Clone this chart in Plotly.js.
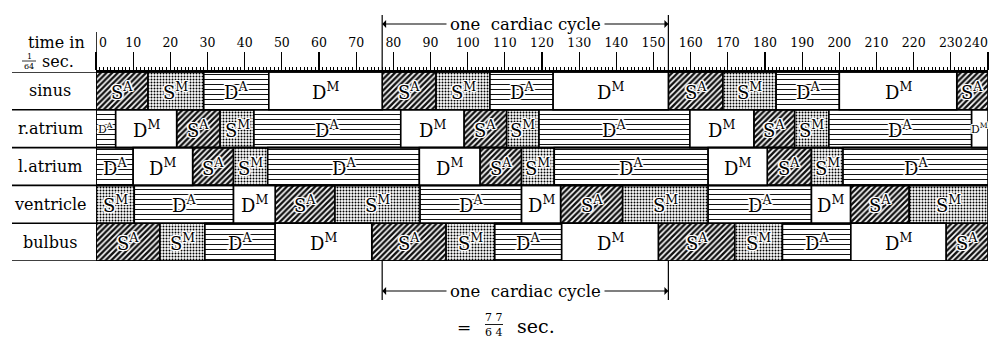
<!DOCTYPE html>
<html>
<head>
<meta charset="utf-8">
<script src="https://cdn.plot.ly/plotly-3.0.1.min.js"></script>
<style>
  html, body { margin: 0; padding: 0; background: #fff; }
  #chart { width: 1000px; height: 341px; }
</style>
</head>
<body>
<div id="chart"></div>
<script>
// Chambers of the heart, top to bottom
const rows = ['sinus', 'r.atrium', 'l.atrium', 'ventricle', 'bulbus'];

// Phase sequence and phase boundaries (time in 1/64 sec) for each chamber
const sinusPhases = ['SA', 'SM', 'DA', 'DM', 'SA', 'SM', 'DA', 'DM', 'SA', 'SM', 'DA', 'DM', 'SA'];
const sinusEdges = [0, 14, 29, 46.5, 77, 91.5, 106, 123, 154, 168.7, 183, 200, 231.6, 240];

const rAtriumPhases = ['DA', 'DM', 'SA', 'SM', 'DA', 'DM', 'SA', 'SM', 'DA', 'DM', 'SA', 'SM', 'DA', 'DM'];
const rAtriumEdges = [0, 5.3, 21.7, 33.4, 42.5, 82, 99, 110.5, 119.2, 159.8, 177, 188, 197.2, 235.6, 240];

const lAtriumPhases = ['DA', 'DM', 'SA', 'SM', 'DA', 'DM', 'SA', 'SM', 'DA', 'DM', 'SA', 'SM', 'DA'];
const lAtriumEdges = [0, 10, 26, 37, 46.2, 87, 103.3, 114.5, 123.3, 164.7, 180.6, 192.5, 201, 240];

const ventriclePhases = ['SM', 'DA', 'DM', 'SA', 'SM', 'DA', 'DM', 'SA', 'SM', 'DA', 'DM', 'SA', 'SM'];
const ventricleEdges = [0, 10.3, 37, 48.2, 64.3, 87.2, 114.5, 125, 141.7, 164.7, 192.5, 203, 218.8, 240];

const bulbusPhases = ['SA', 'SM', 'DA', 'DM', 'SA', 'SM', 'DA', 'DM', 'SA', 'SM', 'DA', 'DM', 'SA'];
const bulbusEdges = [0, 17.2, 29.3, 48.2, 74.2, 94.2, 107.3, 125.3, 151.3, 171.9, 184.7, 203.1, 228.7, 240];

// Time ruler
const majorTicks = [0, 10, 20, 30, 40, 50, 60, 70, 80, 90, 100, 110, 120, 130, 140, 150, 160, 170, 180, 190, 200, 210, 220, 230, 240];
const tickLabels = ['0', '10', '20', '30', '40', '50', '60', '70', '80', '90', '100', '110', '120', '130', '140', '150', '160', '170', '180', '190', '200', '210', '220', '230', '240'];

// One cardiac cycle
const cycleStart = 77;
const cycleEnd = 154;

const phaseLabels = {
  SA: 'S<sup>A</sup>',
  SM: 'S<sup>M</sup>',
  DA: 'D<sup>A</sup>',
  DM: 'D<sup>M</sup>'
};

const chamberData = [
  [sinusPhases, sinusEdges],
  [rAtriumPhases, rAtriumEdges],
  [lAtriumPhases, lAtriumEdges],
  [ventriclePhases, ventricleEdges],
  [bulbusPhases, bulbusEdges]
];

const FONT = 'DejaVu Serif, serif';
const HALO = '1px 0 0 #fff, -1px 0 0 #fff, 0 1px 0 #fff, 0 -1px 0 #fff, ' +
             '1px 1px 0 #fff, -1px -1px 0 #fff, 1px -1px 0 #fff, -1px 1px 0 #fff, ' +
             '2px 0 1px #fff, -2px 0 1px #fff';

// Fill texture for each phase
const phaseStyle = {
  SA: { shape: '/', fgcolor: '#111', size: 4, solidity: 0.6 },
  SM: { shape: '.', fgcolor: '#000', size: 3, solidity: 0.35 },
  DA: { shape: '-', fgcolor: '#111', size: 5, solidity: 0.2 },
  DM: { shape: '', fgcolor: '#000', size: 8, solidity: 0.3 }
};

const traces = [];
const annotations = [];

Object.keys(phaseStyle).forEach(function (key) {
  const ys = [], bases = [], lens = [];
  chamberData.forEach(function (cd, r) {
    const phases = cd[0], edges = cd[1];
    phases.forEach(function (p, i) {
      if (p !== key) return;
      ys.push(rows[r]);
      bases.push(edges[i]);
      lens.push(edges[i + 1] - edges[i]);
    });
  });
  const st = phaseStyle[key];
  traces.push({
    type: 'bar',
    orientation: 'h',
    y: ys,
    base: bases,
    x: lens,
    width: 1,
    hoverinfo: 'skip',
    marker: {
      color: '#fff',
      line: { color: '#000', width: 1.6 },
      pattern: {
        shape: st.shape,
        fgcolor: st.fgcolor,
        bgcolor: '#fff',
        size: st.size,
        solidity: st.solidity,
        fillmode: 'replace'
      }
    }
  });
});

// Phase labels in the middle of each block
chamberData.forEach(function (cd, r) {
  const phases = cd[0], edges = cd[1];
  phases.forEach(function (p, i) {
    const w = edges[i + 1] - edges[i];
    annotations.push({
      xref: 'x', yref: 'y',
      x: (edges[i] + edges[i + 1]) / 2,
      y: rows[r],
      text: phaseLabels[p],
      showarrow: false,
      xanchor: 'center', yanchor: 'middle',
      font: { family: FONT, size: w < 7 ? 11 : 18, color: '#000', shadow: HALO }
    });
  });
});

// Chamber names in the left column
rows.forEach(function (name) {
  annotations.push({
    xref: 'paper', yref: 'y',
    x: -46 / 892, y: name,
    text: name, showarrow: false,
    xanchor: 'center', yanchor: 'middle',
    font: { family: FONT, size: 16, color: '#000' }
  });
});

// Ruler end labels, set flush with the frame
annotations.push({
  xref: 'x', yref: 'paper', x: majorTicks[0], y: 1 + 29 / 189,
  text: tickLabels[0], showarrow: false, xanchor: 'left', yanchor: 'middle', xshift: 1,
  font: { family: FONT, size: 12.5, color: '#000' }
});
annotations.push({
  xref: 'x', yref: 'paper', x: majorTicks[majorTicks.length - 1], y: 1 + 29 / 189,
  text: tickLabels[tickLabels.length - 1], showarrow: false, xanchor: 'right', yanchor: 'middle', xshift: 2,
  font: { family: FONT, size: 12.5, color: '#000' }
});

// Ruler caption: "time in 1/64 sec."
annotations.push({
  xref: 'paper', yref: 'paper', x: -40 / 892, y: 1 + 29 / 189,
  text: 'time in', showarrow: false, xanchor: 'center', yanchor: 'middle', borderpad: 0,
  font: { family: FONT, size: 16, color: '#000' }
});
annotations.push({
  xref: 'paper', yref: 'paper', x: -67 / 892, y: 1 + 16 / 189,
  text: '1', showarrow: false, xanchor: 'center', yanchor: 'middle', borderpad: 0,
  font: { family: FONT, size: 8, color: '#000' }
});
annotations.push({
  xref: 'paper', yref: 'paper', x: -67 / 892, y: 1 + 6 / 189,
  text: '64', showarrow: false, xanchor: 'center', yanchor: 'middle', borderpad: 0,
  font: { family: FONT, size: 8, color: '#000' }
});
annotations.push({
  xref: 'paper', yref: 'paper', x: -38 / 892, y: 1 + 11 / 189,
  text: 'sec.', showarrow: false, xanchor: 'center', yanchor: 'middle', borderpad: 0,
  font: { family: FONT, size: 16, color: '#000' }
});

// Cardiac cycle brackets, above the ruler and below the chart
function cycleArrows(yPaper) {
  const mid = (cycleStart + cycleEnd) / 2;
  [cycleStart, cycleEnd].forEach(function (end) {
    annotations.push({
      xref: 'x', yref: 'paper', x: end, y: yPaper,
      axref: 'x', ayref: 'pixel', ax: mid, ay: 0,
      text: '', showarrow: true, arrowhead: 1, arrowsize: 1.2, arrowwidth: 1.1, arrowcolor: '#000'
    });
  });
  annotations.push({
    xref: 'x', yref: 'paper', x: mid, y: yPaper,
    text: 'one  cardiac cycle', showarrow: false, xanchor: 'center', yanchor: 'middle',
    bgcolor: '#fff', borderpad: 3,
    font: { family: FONT, size: 16.5, color: '#000' }
  });
}
cycleArrows(1 + 48 / 189);
cycleArrows(-30 / 189);

// "= 77/64 sec."
annotations.push({
  xref: 'paper', yref: 'paper', x: 368 / 892, y: -66 / 189,
  text: '=', showarrow: false, xanchor: 'center', yanchor: 'middle',
  font: { family: FONT, size: 17, color: '#000' }
});
annotations.push({
  xref: 'paper', yref: 'paper', x: 398 / 892, y: -56 / 189,
  text: '7 7', showarrow: false, xanchor: 'center', yanchor: 'middle', borderpad: 0,
  font: { family: FONT, size: 11, color: '#000' }
});
annotations.push({
  xref: 'paper', yref: 'paper', x: 398 / 892, y: -71 / 189,
  text: '6 4', showarrow: false, xanchor: 'center', yanchor: 'middle', borderpad: 0,
  font: { family: FONT, size: 11, color: '#000' }
});
annotations.push({
  xref: 'paper', yref: 'paper', x: 419 / 892, y: -65 / 189,
  text: 'sec.', showarrow: false, xanchor: 'left', yanchor: 'middle',
  font: { family: FONT, size: 19, color: '#000' }
});

const shapes = [];
const lineStyle = { color: '#000', width: 1.6 };

// Row separators, running across the label column
for (let i = 0; i <= rows.length; i++) {
  shapes.push({
    type: 'line', xref: 'paper', yref: 'y',
    x0: -84 / 892, x1: 1, y0: i - 0.5, y1: i - 0.5,
    line: lineStyle
  });
}
// Frame edge at time zero, rising through the ruler
shapes.push({
  type: 'line', xref: 'x', yref: 'paper',
  x0: majorTicks[0], x1: majorTicks[0], y0: 0, y1: 1 + 40 / 189,
  line: lineStyle
});
// Cycle markers
[cycleStart, cycleEnd].forEach(function (t) {
  shapes.push({
    type: 'line', xref: 'x', yref: 'paper',
    x0: t, x1: t, y0: 1, y1: 1 + 57 / 189,
    line: { color: '#000', width: 1.2 }
  });
  shapes.push({
    type: 'line', xref: 'x', yref: 'paper',
    x0: t, x1: t, y0: 0, y1: -39 / 189,
    line: { color: '#000', width: 1.2 }
  });
});
// Fraction bars
shapes.push({
  type: 'line', xref: 'paper', yref: 'paper',
  x0: -74 / 892, x1: -60 / 892, y0: 1 + 11 / 189, y1: 1 + 11 / 189,
  line: { color: '#000', width: 0.8 }
});
shapes.push({
  type: 'line', xref: 'paper', yref: 'paper',
  x0: 389 / 892, x1: 407 / 892, y0: -63.5 / 189, y1: -63.5 / 189,
  line: { color: '#000', width: 0.9 }
});

const layout = {
  width: 1000,
  height: 341,
  margin: { l: 96, r: 12, t: 72, b: 80, pad: 0 },
  paper_bgcolor: '#fff',
  plot_bgcolor: '#fff',
  barmode: 'overlay',
  bargap: 0,
  showlegend: false,
  hovermode: false,
  font: { family: FONT, color: '#000' },
  xaxis: {
    range: [majorTicks[0], majorTicks[majorTicks.length - 1]],
    side: 'top',
    tickmode: 'array',
    tickvals: majorTicks,
    ticktext: tickLabels.map(function (t, i) { return (i === 0 || i === tickLabels.length - 1) ? '' : t; }),
    ticks: 'outside',
    ticklen: 18,
    tickwidth: 1.2,
    tickcolor: '#000',
    tickfont: { family: FONT, size: 12.5, color: '#000' },
    showgrid: false,
    zeroline: false,
    showline: true,
    linecolor: '#000',
    linewidth: 1.6,
    minor: { tickmode: 'linear', tick0: 0, dtick: 1, ticks: 'outside', ticklen: 3, tickwidth: 1, tickcolor: '#000', showgrid: false },
    fixedrange: true
  },
  xaxis2: {
    overlaying: 'x',
    anchor: 'y',
    side: 'top',
    range: [majorTicks[0], majorTicks[majorTicks.length - 1]],
    tickmode: 'linear',
    tick0: 0,
    dtick: 5,
    ticks: 'outside',
    ticklen: 6,
    tickwidth: 1,
    tickcolor: '#000',
    showticklabels: false,
    showgrid: false,
    zeroline: false,
    showline: false,
    fixedrange: true
  },
  yaxis: {
    type: 'category',
    categoryorder: 'array',
    categoryarray: rows,
    range: [rows.length - 0.5, -0.5],
    showticklabels: false,
    ticks: '',
    showgrid: false,
    zeroline: false,
    showline: false,
    fixedrange: true
  },
  shapes: shapes,
  annotations: annotations
};

Plotly.newPlot('chart', traces, layout, { staticPlot: true, displayModeBar: false });
</script>
</body>
</html>
